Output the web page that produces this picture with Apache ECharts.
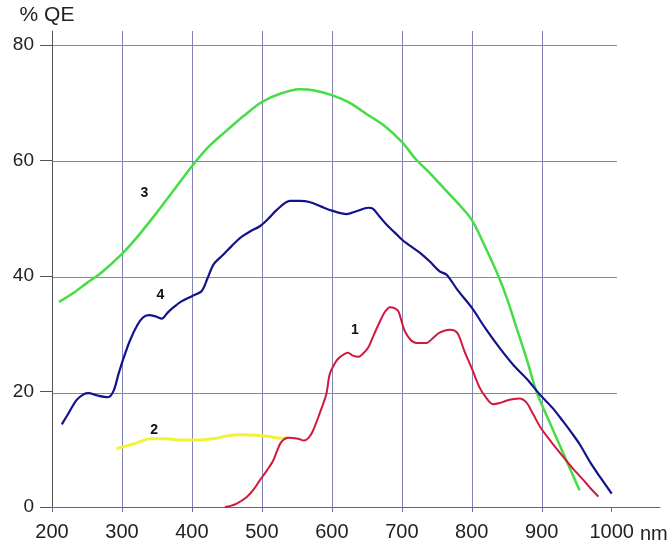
<!DOCTYPE html>
<html>
<head>
<meta charset="utf-8">
<script src="https://cdn.jsdelivr.net/npm/echarts@6/dist/echarts.min.js"></script>
<style>
html,body{margin:0;padding:0;background:#fff;}
#chart{width:672px;height:544px;}
</style>
</head>
<body>
<div id="chart"></div>
<script>
// Tick labels
var xTicks = [200, 300, 400, 500, 600, 700, 800, 900, 1000];
var yTicks = [0, 20, 40, 60, 80];

// Curve 1 (red)
var curve1 = [[447,0],[455,0.2],[464,0.6],[478,1.7],[488,3],[497,4.6],[507,6.3],[516,8],[522,9.8],[528,11.3],[538,12],[552,11.8],[560,11.5],[567,12],[573,13.2],[582,16],[592,19.5],[597,23],[605,25],[611,25.9],[623,26.7],[630,26.2],[638,26],[645,26.6],[652,27.6],[660,29.8],[669,32.2],[676,33.8],[683,34.6],[690,34.4],[695,33.9],[700,32],[704,30.5],[712,29],[721,28.4],[735,28.4],[745,29.3],[754,30.2],[768,30.7],[776,30.5],[781,29.8],[790,26.8],[800,24],[811,20.7],[820,19],[830,17.8],[840,18],[849,18.4],[860,18.7],[868,18.8],[878,18.1],[888,16],[898,13.8],[914,11.2],[930,8.8],[945,6.6],[960,4.6],[970,3.2],[981,1.8]];

// Curve 2 (yellow)
var curve2 = [[292,10.1],[304,10.5],[316,10.9],[328,11.4],[340,11.8],[364,11.8],[385,11.6],[407,11.6],[420,11.7],[435,11.9],[450,12.3],[469,12.5],[492,12.4],[510,12.2],[526,11.9],[538,12]];

// Curve 3 (green)
var curve3 = [[210,35.5],[230,37],[250,38.8],[270,40.5],[300,43.8],[325,47.2],[350,51],[375,55],[400,59],[425,62.5],[450,65.2],[475,67.8],[500,70.1],[525,71.5],[554,72.3],[575,72.1],[600,71.3],[625,70],[650,68],[675,66],[700,63.2],[720,60.2],[740,57.8],[760,55.2],[780,52.6],[800,49.7],[820,44.8],[838,40],[850,36.2],[864,31],[880,25],[892,20.1],[910,15],[930,9.5],[954,2.9]];

// Curve 4 (blue)
var curve4 = [[214,14.3],[223,16.1],[235,18.5],[245,19.5],[252,19.7],[265,19.3],[280,19],[288,20.1],[295,23],[301,25.3],[311,28.7],[322,31.5],[330,32.8],[338,33.2],[348,33],[357,32.6],[365,33.6],[373,34.5],[385,35.6],[400,36.5],[414,37.4],[422,39.5],[431,42],[445,43.7],[457,45.2],[469,46.6],[483,47.7],[497,48.6],[510,50],[521,51.4],[540,53],[554,53],[568,52.8],[585,52],[600,51.3],[621,50.7],[635,51.2],[652,51.8],[659,51.6],[668,50.3],[678,48.9],[690,47.5],[700,46.3],[712,45.2],[726,44],[740,42.5],[754,40.8],[764,40.2],[780,37.5],[800,34.5],[819,31],[840,27.5],[860,24.5],[880,22],[897,19.5],[915,17.2],[930,14.9],[943,12.8],[954,10.9],[970,7.6],[985,4.9],[1000,2.3]];

// Curve number annotations (data coordinates)
var curveNames = ['1', '2', '3', '4'];
var curveNameAt = [[633, 30.7], [346, 13.3], [332, 54.3], [355, 36.6]];

var gridColor = '#8282b4';
var labelFont = "'Liberation Sans', Arial, sans-serif";

function nameMark(i) {
  return {
    symbol: 'circle', symbolSize: 1, silent: true,
    itemStyle: { color: 'rgba(0,0,0,0)' },
    label: { show: true, position: 'inside', formatter: curveNames[i], color: '#111', fontWeight: 'bold', fontSize: 14, fontFamily: labelFont },
    data: [{ coord: curveNameAt[i] }]
  };
}

function lineSeries(data, color, width, idx) {
  return {
    type: 'line', xAxisIndex: 0, yAxisIndex: 0, data: data,
    showSymbol: false, smooth: 0.3, silent: true,
    lineStyle: { color: color, width: width },
    markPoint: nameMark(idx),
    z: 3
  };
}

var chart = echarts.init(document.getElementById('chart'));
chart.setOption({
  animation: false,
  backgroundColor: '#ffffff',
  grid: [
    { left: 52, right: 12, top: 31, bottom: 34 },
    { left: 52, right: 55, top: 31, bottom: 34 }
  ],
  xAxis: [
    {
      type: 'value', gridIndex: 0, min: 200, max: 1069,
      axisLine: { show: true, lineStyle: { color: '#666', width: 1 } },
      axisTick: { show: true, length: 5, customValues: xTicks, lineStyle: { color: '#6a6aa0' } },
      axisLabel: { customValues: xTicks, margin: 15, fontSize: 20, fontFamily: labelFont, color: '#222',
        formatter: function (v) { return String(v); } },
      splitLine: { show: true, showMinLine: false, showMaxLine: false, lineStyle: { color: gridColor, width: 1 } },
      name: 'nm', nameLocation: 'end', nameGap: -20,
      nameTextStyle: { fontSize: 20, fontFamily: labelFont, color: '#222', align: 'left', verticalAlign: 'top', padding: [17, 0, 0, 0] }
    },
    {
      type: 'value', gridIndex: 1, min: 200, max: 1007, show: false
    }
  ],
  yAxis: [
    {
      type: 'value', gridIndex: 0, min: 0, max: 82.4,
      axisLine: { show: true, lineStyle: { color: '#555', width: 1 } },
      axisTick: { show: true, length: 12, customValues: yTicks, lineStyle: { color: '#555' } },
      axisLabel: { customValues: yTicks, margin: 18, fontSize: 19, fontFamily: labelFont, color: '#222' },
      splitLine: { show: false },
      name: '% QE', nameLocation: 'end', nameGap: 5,
      nameTextStyle: { fontSize: 21, fontFamily: labelFont, color: '#222', align: 'center', padding: [0, 10, 0, 0] }
    },
    {
      type: 'value', gridIndex: 1, min: 0, max: 82.4,
      axisLine: { show: false }, axisTick: { show: false }, axisLabel: { show: false },
      splitLine: { show: true, showMinLine: false, showMaxLine: false, lineStyle: { color: gridColor, width: 1 } }
    }
  ],
  series: [
    lineSeries(curve3, '#46dc46', 2.5, 2),
    lineSeries(curve4, '#12128e', 2.2, 3),
    lineSeries(curve2, '#f2f23a', 3, 1),
    lineSeries(curve1, '#d2183c', 2, 0)
  ]
});
</script>
</body>
</html>
